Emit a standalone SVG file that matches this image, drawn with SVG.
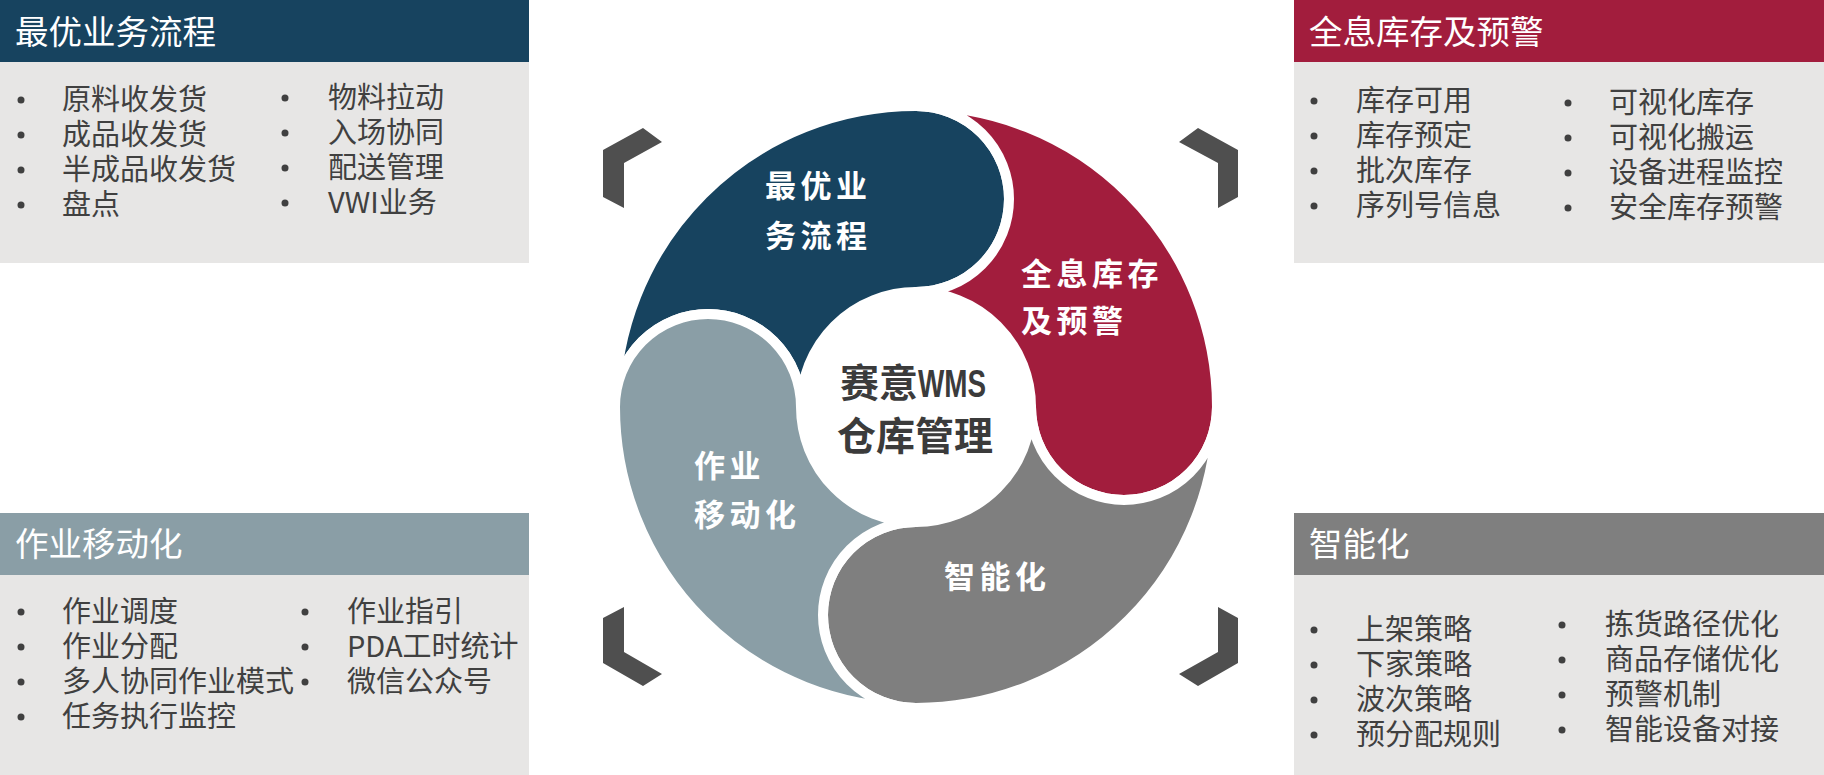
<svg xmlns="http://www.w3.org/2000/svg" width="1824" height="775" viewBox="0 0 1824 775">
<style>
.hdr{font-family:"Noto Sans CJK SC","Noto Sans",sans-serif;font-size:33.5px;fill:#ffffff}
.item{font-family:"Noto Sans CJK SC","Noto Sans",sans-serif;font-size:29px;fill:#404040}
.bul{fill:#404040}
.bg{fill:#E7E6E5}
.seg{stroke:#ffffff;stroke-width:10;stroke-linejoin:round}
.lbl{font-family:"Noto Sans CJK SC","Noto Sans",sans-serif;font-size:31px;font-weight:700;fill:#ffffff;letter-spacing:4.5px}
.ctr{font-family:"Noto Sans CJK SC","Noto Sans",sans-serif;font-size:39px;font-weight:700;fill:#3B3B3B}
.wms{font-family:"Liberation Sans",Arial,sans-serif;font-size:39px;font-weight:700;fill:#3B3B3B}
.chev{fill:#4F4F4F}
</style>
<rect width="1824" height="775" fill="#ffffff"/>

<g id="box-process">
<rect class="bg" x="0" y="62" width="529" height="201"/>
<rect x="0" y="0" width="529" height="62" fill="#17435F"/>
<text class="hdr" x="15" y="44">最优业务流程</text>
<circle class="bul" cx="21" cy="100" r="3.5"/><text class="item" x="62" y="110">原料收发货</text>
<circle class="bul" cx="21" cy="135" r="3.5"/><text class="item" x="62" y="145">成品收发货</text>
<circle class="bul" cx="21" cy="170" r="3.5"/><text class="item" x="62" y="180">半成品收发货</text>
<circle class="bul" cx="21" cy="205" r="3.5"/><text class="item" x="62" y="215">盘点</text>
<circle class="bul" cx="285" cy="98" r="3.5"/><text class="item" x="328" y="108">物料拉动</text>
<circle class="bul" cx="285" cy="133" r="3.5"/><text class="item" x="328" y="143">入场协同</text>
<circle class="bul" cx="285" cy="168" r="3.5"/><text class="item" x="328" y="178">配送管理</text>
<circle class="bul" cx="285" cy="203" r="3.5"/><text class="item" x="328" y="213">VWI业务</text>
</g>

<g id="box-inventory">
<rect class="bg" x="1294" y="62" width="530" height="201"/>
<rect x="1294" y="0" width="530" height="62" fill="#A21D3D"/>
<text class="hdr" x="1309" y="44">全息库存及预警</text>
<circle class="bul" cx="1314" cy="101" r="3.5"/><text class="item" x="1356" y="111">库存可用</text>
<circle class="bul" cx="1314" cy="136" r="3.5"/><text class="item" x="1356" y="146">库存预定</text>
<circle class="bul" cx="1314" cy="171" r="3.5"/><text class="item" x="1356" y="181">批次库存</text>
<circle class="bul" cx="1314" cy="206" r="3.5"/><text class="item" x="1356" y="216">序列号信息</text>
<circle class="bul" cx="1568" cy="103" r="3.5"/><text class="item" x="1609" y="113">可视化库存</text>
<circle class="bul" cx="1568" cy="138" r="3.5"/><text class="item" x="1609" y="148">可视化搬运</text>
<circle class="bul" cx="1568" cy="173" r="3.5"/><text class="item" x="1609" y="183">设备进程监控</text>
<circle class="bul" cx="1568" cy="208" r="3.5"/><text class="item" x="1609" y="218">安全库存预警</text>
</g>

<g id="box-mobile">
<rect class="bg" x="0" y="575" width="529" height="200"/>
<rect x="0" y="513" width="529" height="62" fill="#8A9EA6"/>
<text class="hdr" x="15" y="556">作业移动化</text>
<circle class="bul" cx="21" cy="612" r="3.5"/><text class="item" x="62" y="622">作业调度</text>
<circle class="bul" cx="21" cy="647" r="3.5"/><text class="item" x="62" y="657">作业分配</text>
<circle class="bul" cx="21" cy="682" r="3.5"/><text class="item" x="62" y="692">多人协同作业模式</text>
<circle class="bul" cx="21" cy="717" r="3.5"/><text class="item" x="62" y="727">任务执行监控</text>
<circle class="bul" cx="305" cy="612" r="3.5"/><text class="item" x="347" y="622">作业指引</text>
<circle class="bul" cx="305" cy="647" r="3.5"/><text class="item" x="347" y="657">PDA工时统计</text>
<circle class="bul" cx="305" cy="682" r="3.5"/><text class="item" x="347" y="692">微信公众号</text>
</g>

<g id="box-smart">
<rect class="bg" x="1294" y="575" width="530" height="200"/>
<rect x="1294" y="513" width="530" height="62" fill="#7F7F7F"/>
<text class="hdr" x="1309" y="556">智能化</text>
<circle class="bul" cx="1314" cy="630" r="3.5"/><text class="item" x="1356" y="640">上架策略</text>
<circle class="bul" cx="1314" cy="665" r="3.5"/><text class="item" x="1356" y="675">下家策略</text>
<circle class="bul" cx="1314" cy="700" r="3.5"/><text class="item" x="1356" y="710">波次策略</text>
<circle class="bul" cx="1314" cy="735" r="3.5"/><text class="item" x="1356" y="745">预分配规则</text>
<circle class="bul" cx="1562" cy="625" r="3.5"/><text class="item" x="1605" y="635">拣货路径优化</text>
<circle class="bul" cx="1562" cy="660" r="3.5"/><text class="item" x="1605" y="670">商品存储优化</text>
<circle class="bul" cx="1562" cy="695" r="3.5"/><text class="item" x="1605" y="705">预警机制</text>
<circle class="bul" cx="1562" cy="730" r="3.5"/><text class="item" x="1605" y="740">智能设备对接</text>
</g>

<g id="corner-brackets">
<polygon class="chev" points="603,150 643,128 662,142 624,163 624,208 603,197"/>
<polygon class="chev" points="1238,150 1198,128 1179,142 1218,163 1218,208 1238,197"/>
<polygon class="chev" points="603,663 643,686 662,674 624,652 624,607 603,618"/>
<polygon class="chev" points="1238,663 1198,686 1179,674 1218,652 1218,607 1238,618"/>
</g>

<g id="seg-process">
<path class="seg" fill="#17435F" d="M615,407 A301,301 0 0 1 916,106 A93,93 0 0 1 916,292 A115,115 0 0 0 801,407 A93,93 0 0 0 615,407 Z"/>
<text class="lbl" x="765" y="197">最优业</text>
<text class="lbl" x="765" y="247">务流程</text>
</g>
<g id="seg-inventory">
<path class="seg" fill="#A21D3D" d="M916,106 A301,301 0 0 1 1217,407 A93,93 0 0 1 1031,407 A115,115 0 0 0 916,292 A93,93 0 0 0 916,106 Z"/>
<text class="lbl" x="1021" y="285">全息库存</text>
<text class="lbl" x="1021" y="332">及预警</text>
</g>
<g id="seg-smart">
<path class="seg" fill="#7F7F7F" d="M1217,407 A301,301 0 0 1 916,708 A93,93 0 0 1 916,522 A115,115 0 0 0 1031,407 A93,93 0 0 0 1217,407 Z"/>
<text class="lbl" x="944" y="588">智能化</text>
</g>
<g id="seg-mobile">
<path class="seg" fill="#8A9EA6" d="M916,708 A301,301 0 0 1 615,407 A93,93 0 0 1 801,407 A115,115 0 0 0 916,522 A93,93 0 0 0 916,708 Z"/>
<text class="lbl" x="694" y="477">作业</text>
<text class="lbl" x="694" y="526">移动化</text>
</g>
<g id="center">
<text class="ctr" x="840" y="397">赛意<tspan class="wms" textLength="68" lengthAdjust="spacingAndGlyphs">WMS</tspan></text>
<text class="ctr" x="915" y="450" text-anchor="middle">仓库管理</text>
</g>
<g id="connectors"></g>
</svg>
